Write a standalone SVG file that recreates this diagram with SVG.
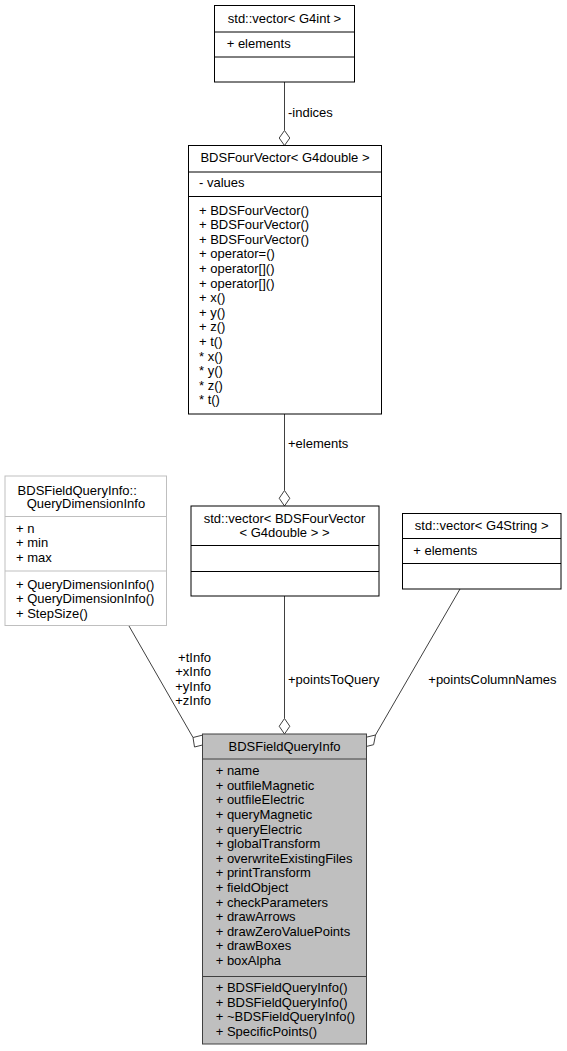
<svg xmlns="http://www.w3.org/2000/svg" width="567" height="1051" viewBox="0 0 567 1051">
<style>
text{font-family:"Liberation Sans",Arial,sans-serif;font-size:13px;fill:#000}
.c{text-anchor:middle}
.e{text-anchor:end}
.box{fill:#fff;stroke:#000;stroke-width:1}
.gbox{fill:#fff;stroke:#bfbfbf;stroke-width:1}
.main{fill:#bfbfbf;stroke:#404040;stroke-width:1}
.div{stroke:#000;stroke-width:1}
.gdiv{stroke:#bfbfbf;stroke-width:1}
.mdiv{stroke:#404040;stroke-width:1}
.edge{stroke:#404040;stroke-width:1;fill:none}
.dia{stroke:#404040;stroke-width:1;fill:#fff}
</style>
<rect width="567" height="1051" fill="#fff"/>
<g id="connectors">
  <line class="edge" x1="284.5" y1="82" x2="284.5" y2="130.5"/>
  <polygon class="dia" points="284.5,130.5 289.8,138 284.5,145.5 279.2,138"/>
  <text x="288" y="117">-indices</text>
  <line class="edge" x1="284.5" y1="414" x2="284.5" y2="490.5"/>
  <polygon class="dia" points="284.5,490.5 289.8,498.25 284.5,506 279.2,498.25"/>
  <text x="288" y="447.8">+elements</text>
  <line class="edge" x1="284.5" y1="596" x2="284.5" y2="718.5"/>
  <polygon class="dia" points="284.5,718.5 289.8,726.25 284.5,734 279.2,726.25"/>
  <text x="288" y="683.5">+pointsToQuery</text>
  <line class="edge" x1="129" y1="626" x2="193" y2="737.5"/>
  <polygon class="dia" points="193,737.5 203,735 204.5,744.5 194.5,747"/>
  <text class="e" x="211" y="661.5">+tInfo</text>
  <text class="e" x="211" y="676">+xInfo</text>
  <text class="e" x="211" y="690.5">+yInfo</text>
  <text class="e" x="211" y="705">+zInfo</text>
  <line class="edge" x1="460" y1="589" x2="375.5" y2="735"/>
  <polygon class="dia" points="375.5,735 365.9,737.3 364,747 373.6,744.7"/>
  <text x="428.3" y="683.5">+pointsColumnNames</text>
</g>
<g id="node_vector_G4int">
  <rect class="box" x="214.5" y="5.5" width="140" height="76.5"/>
  <line class="div" x1="214.5" y1="32" x2="354.5" y2="32"/>
  <line class="div" x1="214.5" y1="57" x2="354.5" y2="57"/>
  <text class="c" x="284.5" y="23.2">std::vector&lt; G4int &gt;</text>
  <text x="226.7" y="47.8">+ elements</text>
</g>
<g id="node_BDSFourVector">
  <rect class="box" x="188.5" y="145.5" width="193" height="268.5"/>
  <line class="div" x1="188.5" y1="172" x2="381.5" y2="172"/>
  <line class="div" x1="188.5" y1="196.5" x2="381.5" y2="196.5"/>
  <text class="c" x="285" y="161.8">BDSFourVector&lt; G4double &gt;</text>
  <text x="199" y="187.2">- values</text>
  <text x="199" y="214.5">+ BDSFourVector()</text>
  <text x="199" y="229.1">+ BDSFourVector()</text>
  <text x="199" y="243.7">+ BDSFourVector()</text>
  <text x="199" y="258.3">+ operator=()</text>
  <text x="199" y="272.9">+ operator[]()</text>
  <text x="199" y="287.5">+ operator[]()</text>
  <text x="199" y="302.1">+ x()</text>
  <text x="199" y="316.7">+ y()</text>
  <text x="199" y="331.3">+ z()</text>
  <text x="199" y="345.9">+ t()</text>
  <text x="199" y="360.5">* x()</text>
  <text x="199" y="375.1">* y()</text>
  <text x="199" y="389.7">* z()</text>
  <text x="199" y="404.3">* t()</text>
</g>
<g id="node_vector_BDSFourVector">
  <rect class="box" x="191" y="506" width="188" height="90"/>
  <line class="div" x1="191" y1="545.5" x2="379" y2="545.5"/>
  <line class="div" x1="191" y1="571.5" x2="379" y2="571.5"/>
  <text class="c" x="284.5" y="522.5">std::vector&lt; BDSFourVector</text>
  <text class="c" x="284.5" y="536.5">&lt; G4double &gt; &gt;</text>
</g>
<g id="node_vector_G4String">
  <rect class="box" x="402.5" y="513.5" width="158.5" height="75.5"/>
  <line class="div" x1="402.5" y1="538.5" x2="561" y2="538.5"/>
  <line class="div" x1="402.5" y1="563.5" x2="561" y2="563.5"/>
  <text class="c" x="481.7" y="530.2">std::vector&lt; G4String &gt;</text>
  <text x="413.3" y="554.5">+ elements</text>
</g>
<g id="node_QueryDimensionInfo">
  <rect class="gbox" x="5" y="476" width="161.5" height="149.5"/>
  <line class="gdiv" x1="5" y1="516.5" x2="166.5" y2="516.5"/>
  <line class="gdiv" x1="5" y1="571" x2="166.5" y2="571"/>
  <text class="c" x="77.2" y="494.5">BDSFieldQueryInfo::</text>
  <text class="c" x="85.9" y="507.8">QueryDimensionInfo</text>
  <text x="16" y="532.8">+ n</text>
  <text x="16" y="547.4">+ min</text>
  <text x="16" y="562">+ max</text>
  <text x="16" y="588.8">+ QueryDimensionInfo()</text>
  <text x="16" y="603.4">+ QueryDimensionInfo()</text>
  <text x="16" y="618">+ StepSize()</text>
</g>
<g id="node_BDSFieldQueryInfo">
  <rect class="main" x="202.5" y="734" width="164" height="310"/>
  <line class="mdiv" x1="202.5" y1="759" x2="366.5" y2="759"/>
  <line class="mdiv" x1="202.5" y1="976.5" x2="366.5" y2="976.5"/>
  <text class="c" x="284.5" y="750.5">BDSFieldQueryInfo</text>
  <text x="215.7" y="775.2">+ name</text>
  <text x="215.7" y="789.8">+ outfileMagnetic</text>
  <text x="215.7" y="804.4">+ outfileElectric</text>
  <text x="215.7" y="819">+ queryMagnetic</text>
  <text x="215.7" y="833.6">+ queryElectric</text>
  <text x="215.7" y="848.2">+ globalTransform</text>
  <text x="215.7" y="862.8">+ overwriteExistingFiles</text>
  <text x="215.7" y="877.4">+ printTransform</text>
  <text x="215.7" y="892">+ fieldObject</text>
  <text x="215.7" y="906.6">+ checkParameters</text>
  <text x="215.7" y="921.2">+ drawArrows</text>
  <text x="215.7" y="935.8">+ drawZeroValuePoints</text>
  <text x="215.7" y="950.4">+ drawBoxes</text>
  <text x="215.7" y="965">+ boxAlpha</text>
  <text x="215.7" y="992.2">+ BDSFieldQueryInfo()</text>
  <text x="215.7" y="1006.8">+ BDSFieldQueryInfo()</text>
  <text x="215.7" y="1021.4">+ ~BDSFieldQueryInfo()</text>
  <text x="215.7" y="1036">+ SpecificPoints()</text>
</g>
</svg>
